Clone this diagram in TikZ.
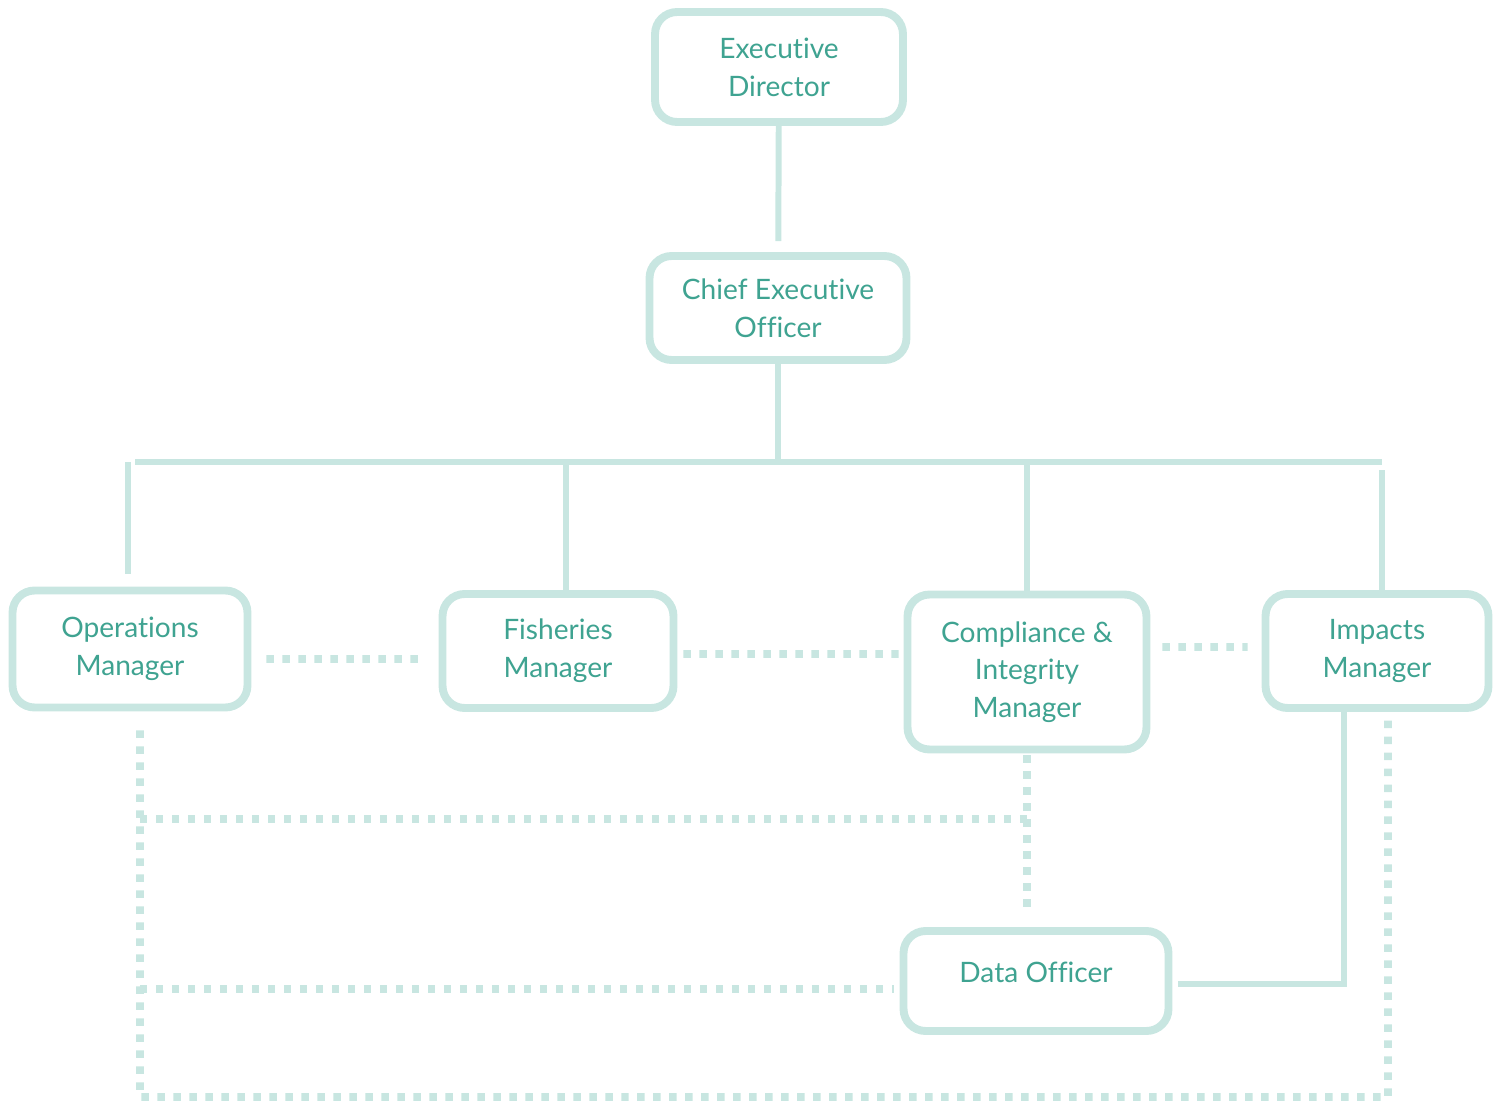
\documentclass[tikz,border=0pt]{standalone}
\usepackage{fontspec}
\setmainfont{Lato}[Ligatures=NoCommon]
\usepackage{xcolor}
\definecolor{boxline}{HTML}{C8E6E1}
\definecolor{boxtext}{HTML}{3FA391}

\begin{document}
\begin{tikzpicture}[x=0.02cm, y=-0.02cm,
  role/.style={draw=boxline, line width=4.5pt, rounded corners=0.44cm, fill=white,
    align=center, text=boxtext, inner sep=0pt,
    font=\fontsize{16}{21.5}\selectfont},
  link/.style={draw=boxline, line width=3.4pt},
  dots/.style={draw=boxline, line width=4.3pt, dash pattern=on 0.15cm off 0.17cm}]
\useasboundingbox (0, 0) rectangle (1502, 1102);
\node [role, minimum width=4.96cm, minimum height=2.2cm] (ed) at (779, 67) {Executive\\Director};
\node [role, minimum width=5.14cm, minimum height=2.08cm] (ceo) at (778, 308) {Chief Executive\\Officer};
\node [role, minimum width=4.7cm, minimum height=2.34cm] (op) at (130, 649) {Operations\\Manager};
\node [role, minimum width=4.62cm, minimum height=2.28cm] (fish) at (558, 651) {Fisheries\\Manager};
\node [role, minimum width=4.78cm, minimum height=3.1cm] (comp) at (1027, 672) {Compliance \&\\Integrity\\Manager};
\node [role, minimum width=4.46cm, minimum height=2.28cm] (imp) at (1377, 651) {Impacts\\Manager};
\node [role, minimum width=5.3cm, minimum height=2cm] (data) at (1036, 981) {\raisebox{0.36cm}{Data Officer}};
\coordinate (busL) at (135, 462);
\coordinate (busR) at (1382, 462);
\coordinate (midL) at (140, 819);
\coordinate (lowL) at (140, 989);
\coordinate (loopL) at (140, 1097);
\coordinate (loopR) at (1388, 1097);
\draw [link, shorten >=0.22cm] (ed) -- (ceo);
\draw [link] (ceo) -- (ceo |- busL);
\draw [link] (busL) -- (busR);
\draw [link, shorten >=0.26cm] ([xshift=-0.04cm]op.north |- busL) -- ([xshift=-0.04cm]op.north);
\draw [link] ([xshift=0.16cm]fish.north |- busL) -- ([xshift=0.16cm]fish.north);
\draw [link] (comp.north |- busL) -- (comp);
\draw [link, shorten <=0.16cm] ([xshift=0.1cm]imp.north |- busR) -- ([xshift=0.1cm]imp.north);
\draw [dots, shorten <=0.3cm, shorten >=0.28cm] ([yshift=-0.2cm]op.east) -- ([yshift=-0.16cm]fish.west);
\draw [dots, shorten <=0.12cm, shorten >=0.1cm] ([yshift=-0.06cm]fish.east) -- ([yshift=0.36cm]comp.west);
\draw [dots, shorten <=0.24cm, shorten >=0.28cm] ([yshift=0.5cm]comp.east) -- ([yshift=0.08cm]imp.west);
\draw [dots, shorten <=0.38cm, shorten >=0.14cm] ([xshift=0.2cm]op.south) -- (loopL) -- (loopR) -- ([xshift=0.22cm]imp.south);
\draw [dots] (midL) -- (midL -| comp.south);
\draw [dots, shorten <=0.04cm, shorten >=0.32cm] (comp.south) -- (comp.south |- data.north);
\draw [dots, shorten >=0.12cm] (lowL) -- (lowL -| data.west);
\draw [link, shorten >=0.12cm] ([xshift=-0.66cm]imp.south) |- ([yshift=-0.06cm]data.east);
\end{tikzpicture}
\end{document}
